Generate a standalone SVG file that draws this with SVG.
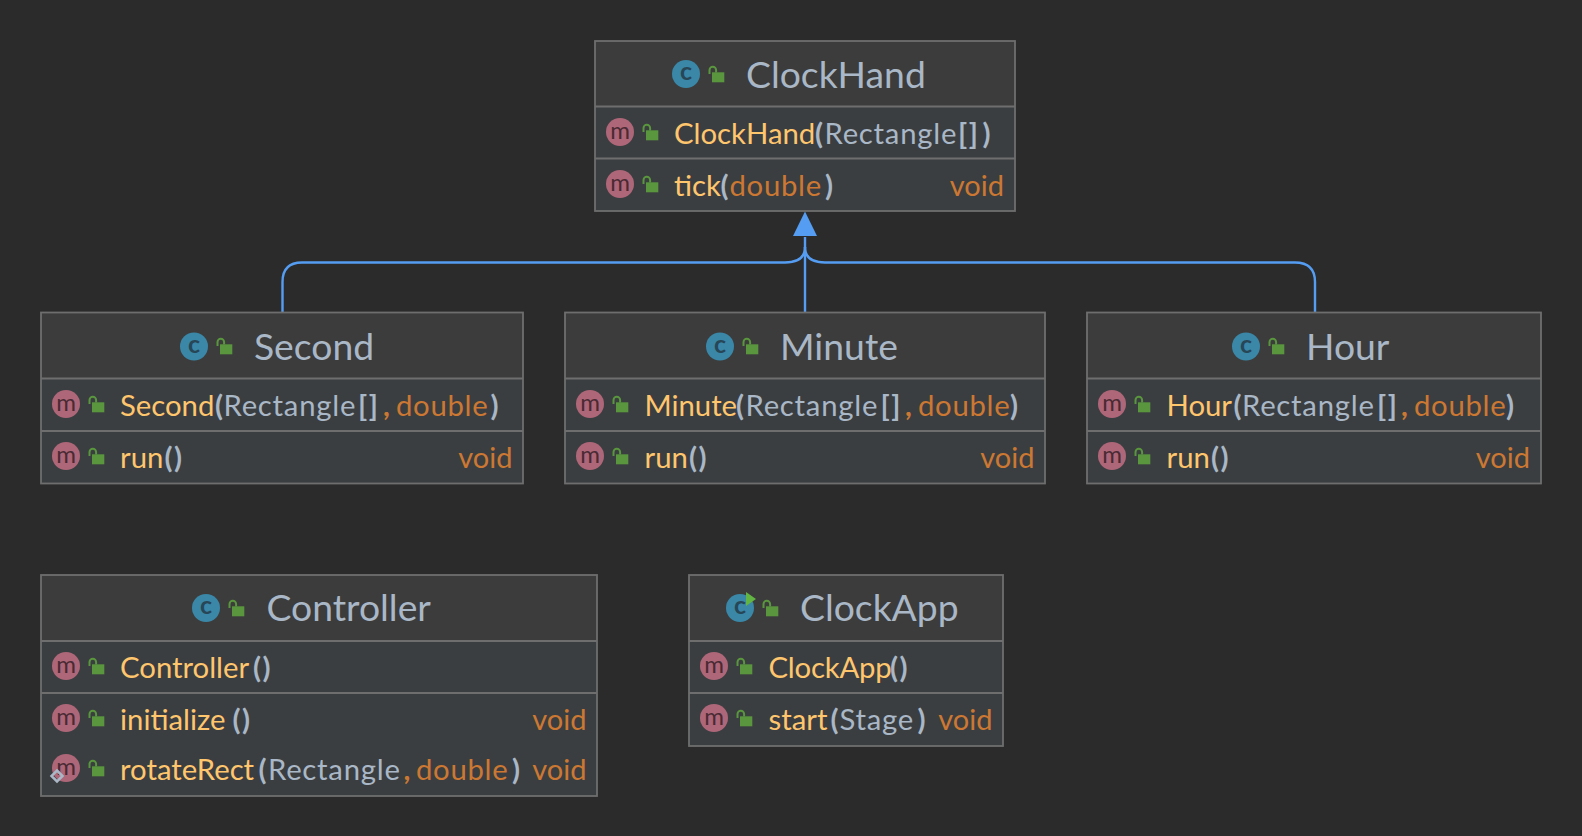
<svg xmlns="http://www.w3.org/2000/svg" width="1582" height="836" viewBox="0 0 1582 836">
<style>
text{font-family:"Lato","Noto Sans","Liberation Sans",sans-serif;font-size:29.300px;fill:#a9b7c6;white-space:pre}
.t{font-size:37.300px}
.y{fill:#ffc66d}
.o{fill:#cc7832}
.p{font-weight:700}
.g{font-weight:700;letter-spacing:1.500px}
.w{letter-spacing:.7px}
.rw{letter-spacing:.75px}
.hd{fill:#3c3c3c}
.bd{fill:#3b3e41}
.edge{fill:none;stroke:#6e6e6e;stroke-width:1.800}
.sep{stroke:#6e6e6e;stroke-width:2;fill:none}
.cc{fill:#3a87a8}
.mc{fill:#ae6779}
.ic{text-anchor:middle}
.cl{font-size:25px;font-weight:700;fill:#274656}
.ml{font-size:24px;fill:#4a2a33}
.r{text-anchor:end;font-size:29px}
.conn{fill:none;stroke:#559df2;stroke-width:2.400}
</style>
<defs>
<g id="lock"><rect x="4" y="6.300" width="12.300" height="10" fill="#59963e"/><path d="M1.500 8V4a3.300 3.300 0 0 1 6.600 0V6.500" fill="none" stroke="#59963e" stroke-width="2"/></g>
</defs>
<rect width="1582" height="836" fill="#2b2b2b"/>
<g id="connectors">
<path class="conn" d="M805 312V237"/>
<path class="conn" d="M282.500 312V282Q282.500 262.500 302 262.500H785Q805 262.500 805 247"/>
<path class="conn" d="M1315 312V282Q1315 262.500 1295 262.500H825Q805 262.500 805 247"/>
<path d="M805 211.500L817 236H793Z" fill="#559df2"/>
</g>

<g id="ClockHand">
<rect class="hd" x="595" y="41" width="420" height="66"/><rect class="bd" x="595" y="107" width="420" height="104"/>
<rect class="edge" x="595" y="41" width="420" height="170"/>
<path class="sep" d="M595 106.500H1015M595 158.500H1015"/>
<circle class="cc" cx="686" cy="74" r="14"/><text class="ic cl" x="686" y="80">c</text>
<use href="#lock" x="708" y="66"/>
<text class="t" x="746" y="87.700">ClockHand</text>
<circle class="mc" cx="620" cy="132" r="14"/><text class="ic ml" x="620" y="139">m</text>
<use href="#lock" x="642" y="124"/>
<text y="143.800"><tspan class="y" x="674">ClockHand</tspan><tspan class="p" x="815">(</tspan><tspan class="rw" x="824.500">Rectangle</tspan><tspan class="g" x="958">[]</tspan><tspan class="p" x="982.500">)</tspan></text>
<circle class="mc" cx="620" cy="184" r="14"/><text class="ic ml" x="620" y="191">m</text>
<use href="#lock" x="642" y="176"/>
<text y="195.800"><tspan class="y" x="674">tick</tspan><tspan class="p" x="720.500">(</tspan><tspan class="o w" x="729.500">double</tspan><tspan class="p" x="825">)</tspan></text>
<text class="o r" x="1004" y="195.800">void</text>
</g>

<g id="Second">
<rect class="hd" x="41" y="312.500" width="482" height="66"/><rect class="bd" x="41" y="378.500" width="482" height="105"/>
<rect class="edge" x="41" y="312.500" width="482" height="171"/>
<path class="sep" d="M41 378.500H523M41 431H523"/>
<circle class="cc" cx="194" cy="346.500" r="14"/><text class="ic cl" x="194" y="352.500">c</text>
<use href="#lock" x="216" y="338"/>
<text class="t" x="254" y="359.700">Second</text>
<circle class="mc" cx="66" cy="404" r="14"/><text class="ic ml" x="66" y="411">m</text>
<use href="#lock" x="88" y="396"/>
<text y="415.800"><tspan class="y" x="120">Second</tspan><tspan class="p" x="215">(</tspan><tspan class="rw" x="223.500">Rectangle</tspan><tspan class="g" x="358">[]</tspan><tspan class="o p" x="383">,</tspan><tspan class="o w" x="396">double</tspan><tspan class="p" x="490.500">)</tspan></text>
<circle class="mc" cx="66" cy="456" r="14"/><text class="ic ml" x="66" y="463">m</text>
<use href="#lock" x="88" y="448"/>
<text y="467.800"><tspan class="y" x="120">run</tspan><tspan class="g" x="164.500">()</tspan></text>
<text class="o r" x="512.500" y="467.800">void</text>
</g>

<g id="Minute">
<rect class="hd" x="565" y="312.500" width="480" height="66"/><rect class="bd" x="565" y="378.500" width="480" height="105"/>
<rect class="edge" x="565" y="312.500" width="480" height="171"/>
<path class="sep" d="M565 378.500H1045M565 431H1045"/>
<circle class="cc" cx="720" cy="346.500" r="14"/><text class="ic cl" x="720" y="352.500">c</text>
<use href="#lock" x="742" y="338"/>
<text class="t" x="780" y="359.700">Minute</text>
<circle class="mc" cx="590" cy="404" r="14"/><text class="ic ml" x="590" y="411">m</text>
<use href="#lock" x="612" y="396"/>
<text y="415.800"><tspan class="y" x="644.500">Minute</tspan><tspan class="p" x="736">(</tspan><tspan class="rw" x="745.500">Rectangle</tspan><tspan class="g" x="880.500">[]</tspan><tspan class="o p" x="905">,</tspan><tspan class="o w" x="918">double</tspan><tspan class="p" x="1010">)</tspan></text>
<circle class="mc" cx="590" cy="456" r="14"/><text class="ic ml" x="590" y="463">m</text>
<use href="#lock" x="612" y="448"/>
<text y="467.800"><tspan class="y" x="644.500">run</tspan><tspan class="g" x="689">()</tspan></text>
<text class="o r" x="1034.500" y="467.800">void</text>
</g>

<g id="Hour">
<rect class="hd" x="1087" y="312.500" width="454" height="66"/><rect class="bd" x="1087" y="378.500" width="454" height="105"/>
<rect class="edge" x="1087" y="312.500" width="454" height="171"/>
<path class="sep" d="M1087 378.500H1541M1087 431H1541"/>
<circle class="cc" cx="1246" cy="346.500" r="14"/><text class="ic cl" x="1246" y="352.500">c</text>
<use href="#lock" x="1268" y="338"/>
<text class="t" x="1306" y="359.700">Hour</text>
<circle class="mc" cx="1112" cy="404" r="14"/><text class="ic ml" x="1112" y="411">m</text>
<use href="#lock" x="1134" y="396"/>
<text y="415.800"><tspan class="y" x="1166.500">Hour</tspan><tspan class="p" x="1233.500">(</tspan><tspan class="rw" x="1242">Rectangle</tspan><tspan class="g" x="1377">[]</tspan><tspan class="o p" x="1401">,</tspan><tspan class="o w" x="1414">double</tspan><tspan class="p" x="1506">)</tspan></text>
<circle class="mc" cx="1112" cy="456" r="14"/><text class="ic ml" x="1112" y="463">m</text>
<use href="#lock" x="1134" y="448"/>
<text y="467.800"><tspan class="y" x="1166.500">run</tspan><tspan class="g" x="1211">()</tspan></text>
<text class="o r" x="1530" y="467.800">void</text>
</g>

<g id="Controller">
<rect class="hd" x="41" y="575" width="556" height="66"/><rect class="bd" x="41" y="641" width="556" height="155"/>
<rect class="edge" x="41" y="575" width="556" height="221"/>
<path class="sep" d="M41 641H597M41 693H597"/>
<circle class="cc" cx="206" cy="608" r="14"/><text class="ic cl" x="206" y="614">c</text>
<use href="#lock" x="228" y="600"/>
<text class="t" x="266.500" y="620.700">Controller</text>
<circle class="mc" cx="66" cy="666" r="14"/><text class="ic ml" x="66" y="673">m</text>
<use href="#lock" x="88" y="658"/>
<text y="677.800"><tspan class="y" x="120">Controller</tspan><tspan class="g" x="253">()</tspan></text>
<circle class="mc" cx="66" cy="718" r="14"/><text class="ic ml" x="66" y="725">m</text>
<use href="#lock" x="88" y="710"/>
<text y="729.800"><tspan class="y" x="120">initialize</tspan><tspan class="g" x="232.500">()</tspan></text>
<text class="o r" x="586.500" y="729.800">void</text>
<circle class="mc" cx="66" cy="768" r="14"/><text class="ic ml" x="66" y="775">m</text>
<path d="M57 770.500L62.500 776L57 781.500L51.500 776Z" fill="none" stroke="#a9b7c6" stroke-width="2.500"/>
<use href="#lock" x="88" y="760"/>
<text y="779.800"><tspan class="y" x="120">rotateRect</tspan><tspan class="p" x="258.500">(</tspan><tspan class="rw" x="268">Rectangle</tspan><tspan class="o p" x="403.500">,</tspan><tspan class="o w" x="416">double</tspan><tspan class="p" x="512">)</tspan></text>
<text class="o r" x="586.500" y="779.800">void</text>
</g>

<g id="ClockApp">
<rect class="hd" x="689" y="575" width="314" height="66"/><rect class="bd" x="689" y="641" width="314" height="105"/>
<rect class="edge" x="689" y="575" width="314" height="171"/>
<path class="sep" d="M689 641H1003M689 693H1003"/>
<circle class="cc" cx="740" cy="608" r="14"/><text class="ic cl" x="740" y="614">c</text>
<path d="M746 592L756 599L746 606Z" fill="#62b543"/>
<use href="#lock" x="762" y="600"/>
<text class="t" x="800" y="620.700">ClockApp</text>
<circle class="mc" cx="714" cy="666" r="14"/><text class="ic ml" x="714" y="673">m</text>
<use href="#lock" x="736" y="658"/>
<text y="677.800"><tspan class="y" x="768.500" letter-spacing="-.2">ClockApp</tspan><tspan class="g" x="890">()</tspan></text>
<circle class="mc" cx="714" cy="718" r="14"/><text class="ic ml" x="714" y="725">m</text>
<use href="#lock" x="736" y="710"/>
<text y="729.800"><tspan class="y" x="768.500">start</tspan><tspan class="p" x="830.500">(</tspan><tspan class="rw" x="839.500">Stage</tspan><tspan class="p" x="917.500">)</tspan></text>
<text class="o r" x="992.500" y="729.800">void</text>
</g>
</svg>
